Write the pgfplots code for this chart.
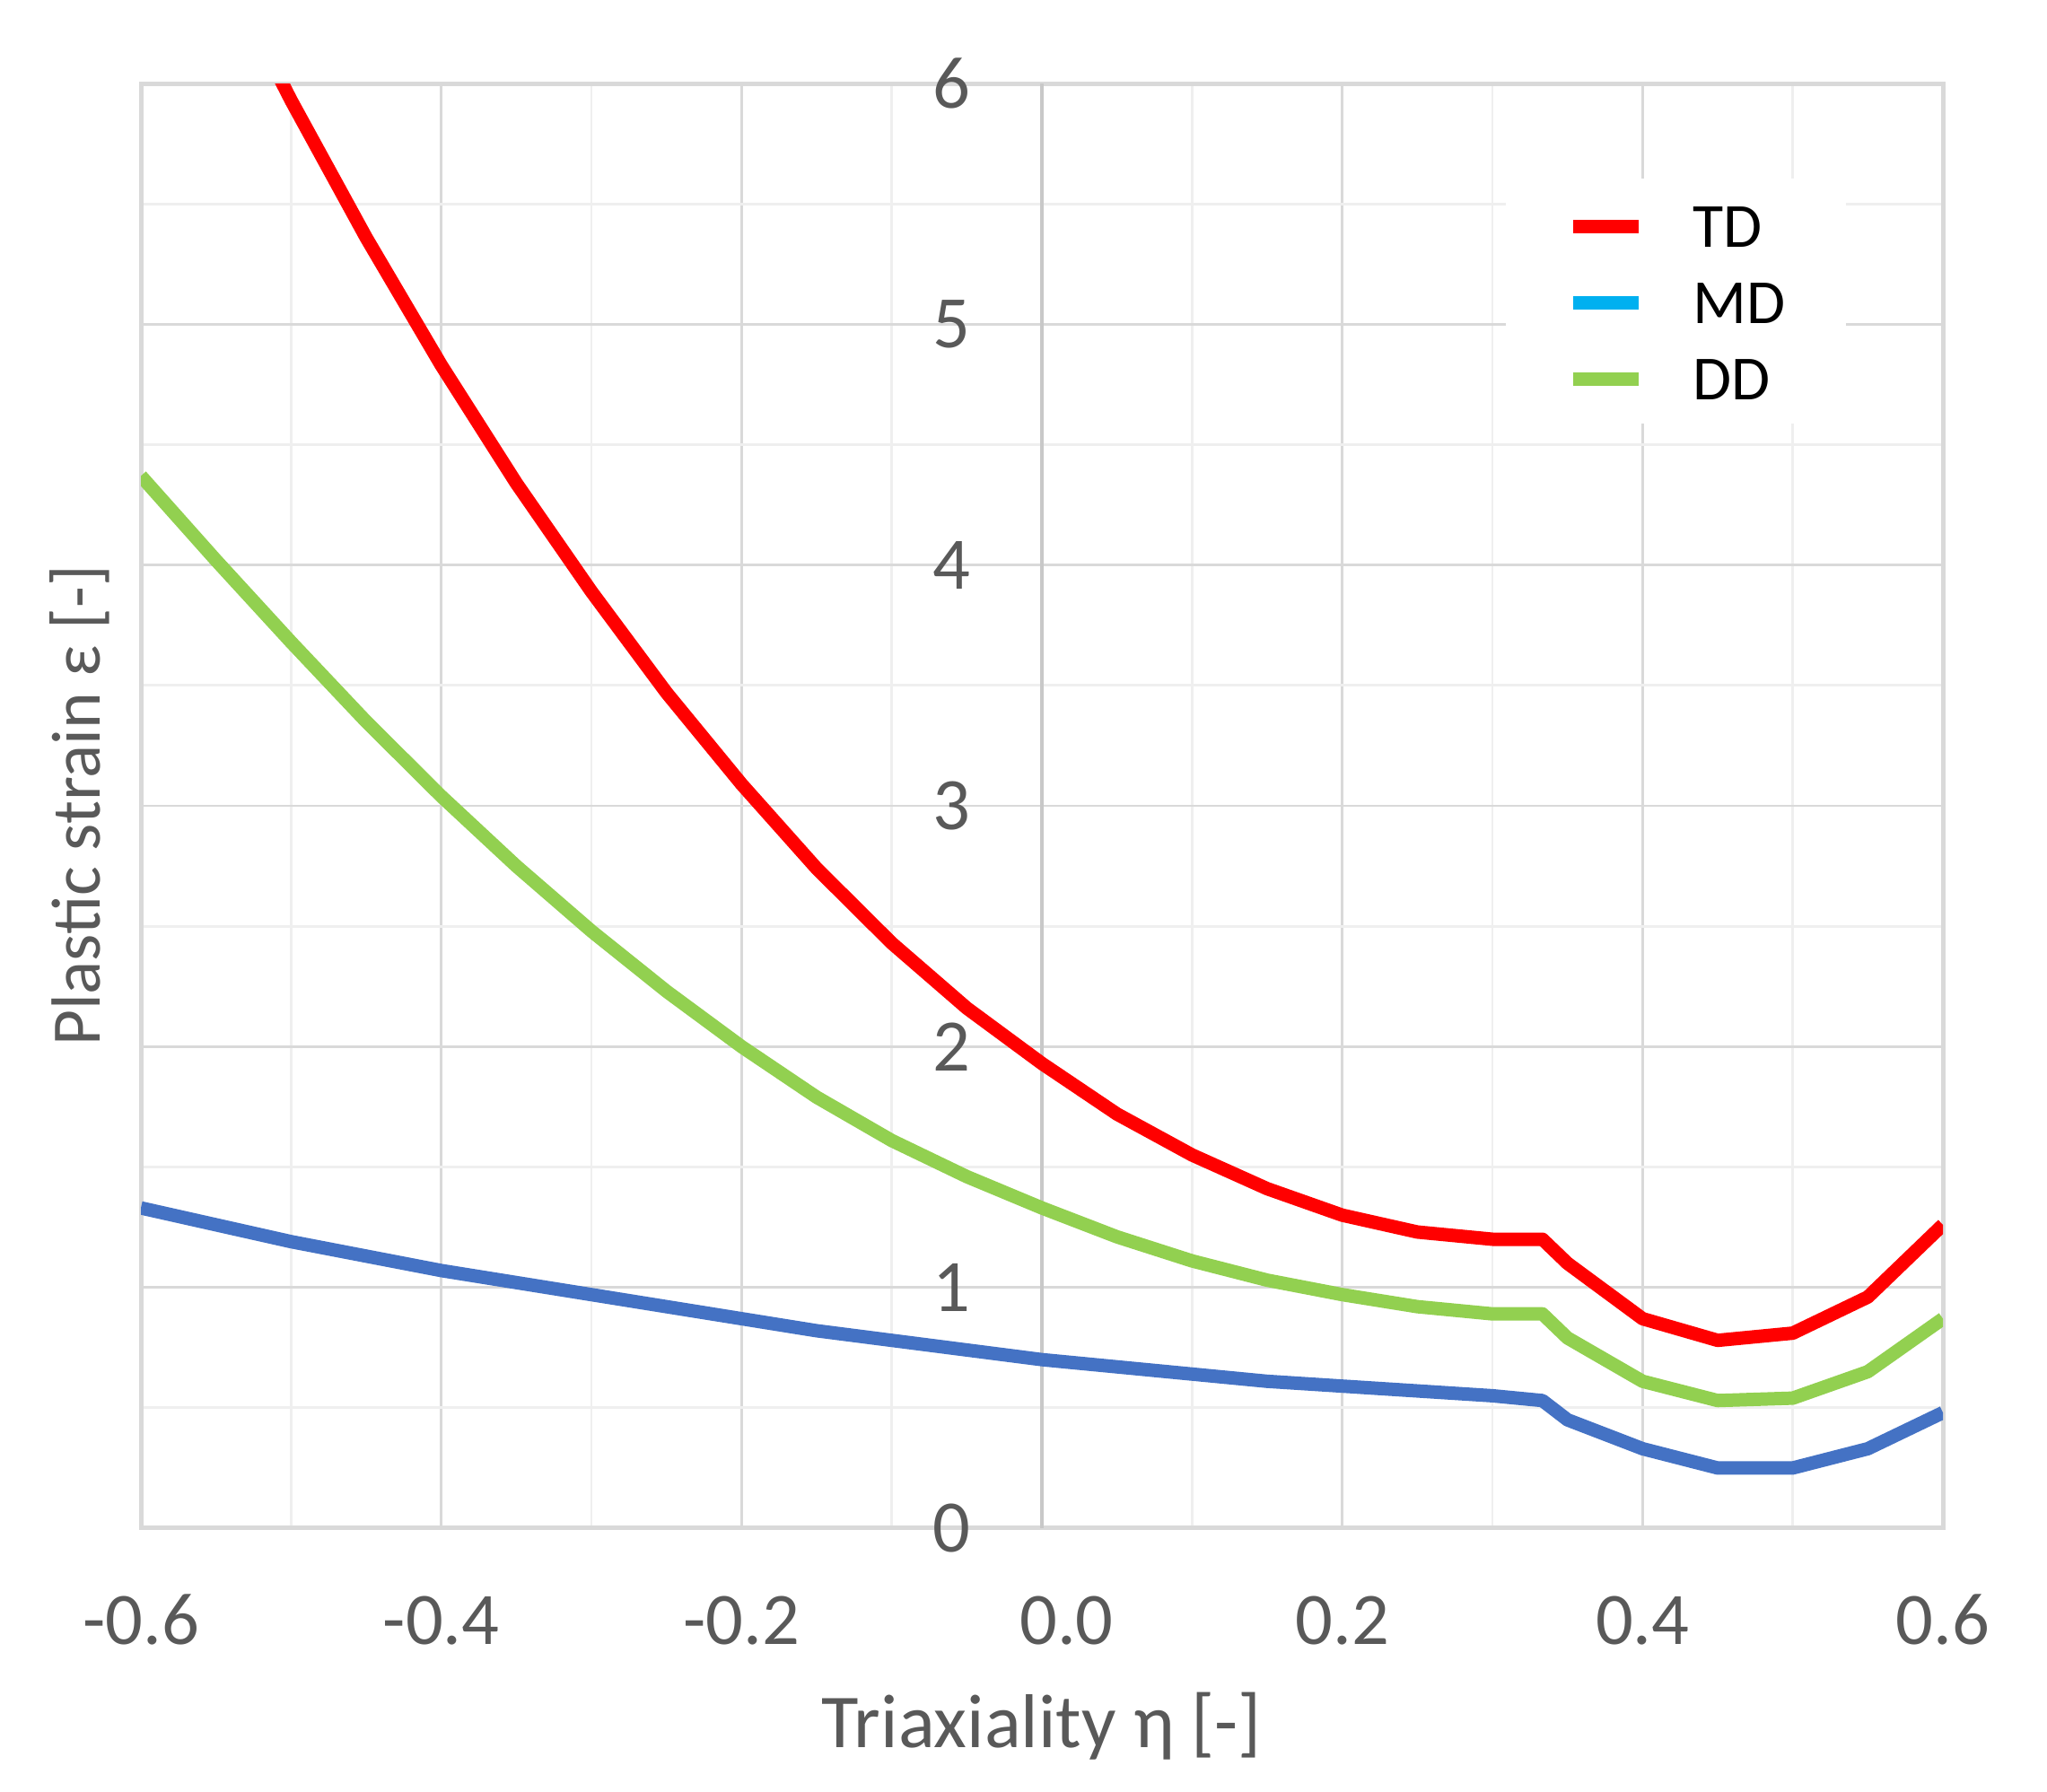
\documentclass[border=0pt]{standalone}
\usepackage{pgfplots}
\pgfplotsset{compat=1.18}
\usepackage{fontspec}
\setmainfont{Carlito}
\definecolor{tdred}{HTML}{FF0000}
\definecolor{mdblue}{HTML}{4472C4}
\definecolor{mdlegend}{HTML}{00B0F0}
\definecolor{ddgreen}{HTML}{92D050}
\definecolor{txtgray}{HTML}{595959}
\definecolor{majgrid}{HTML}{D9D9D9}
\definecolor{mingrid}{HTML}{EFEFEF}
\definecolor{axisgray}{HTML}{C8C8C8}

\pgfplotstableread{
x y
-0.6 7.19
-0.55 6.54
-0.5 5.93
-0.45 5.36
-0.4 4.83
-0.35 4.34
-0.3 3.89
-0.25 3.47
-0.2 3.09
-0.15 2.74
-0.1 2.43
-0.05 2.16
0 1.93
0.05 1.72
0.1 1.55
0.15 1.41
0.2 1.30
0.25 1.23
0.3 1.20
0.3333 1.20
0.35 1.10
0.4 0.87
0.45 0.78
0.5 0.81
0.55 0.96
0.6 1.26
}\tdtable

\pgfplotstableread{
x y
-0.6 1.33
-0.55 1.26
-0.5 1.19
-0.45 1.13
-0.4 1.07
-0.35 1.02
-0.3 0.97
-0.25 0.92
-0.2 0.87
-0.15 0.82
-0.1 0.78
-0.05 0.74
0 0.70
0.05 0.67
0.1 0.64
0.15 0.61
0.2 0.59
0.25 0.57
0.3 0.55
0.3333 0.53
0.35 0.45
0.4 0.33
0.45 0.25
0.5 0.25
0.55 0.33
0.6 0.48
}\mdtable

\pgfplotstableread{
x y
-0.6 4.37
-0.55 4.02
-0.5 3.68
-0.45 3.35
-0.4 3.04
-0.35 2.75
-0.3 2.48
-0.25 2.23
-0.2 2.00
-0.15 1.79
-0.1 1.61
-0.05 1.46
0 1.33
0.05 1.21
0.1 1.11
0.15 1.03
0.2 0.97
0.25 0.92
0.3 0.89
0.3333 0.89
0.35 0.79
0.4 0.61
0.45 0.53
0.5 0.54
0.55 0.65
0.6 0.87
}\ddtable

\begin{document}
\begin{tikzpicture}
\useasboundingbox (-31.4pt,-58.8pt) rectangle (424.8pt,340.6pt);
\begin{axis}[
  scale only axis,
  width=401.6pt, height=322pt,
  at={(0,0)}, anchor=south west,
  xmin=-0.6, xmax=0.6, ymin=0, ymax=6,
  xtick={-0.6,-0.4,-0.2,0,0.2,0.4,0.6},
  xticklabels={-0.6,-0.4,-0.2,\hspace*{11pt}0.0,0.2,0.4,0.6},
  ytick={0,1,2,3,4,5,6},
  yticklabels={0,1,2,3,4,5,6},
  minor xtick={-0.5,-0.3,-0.1,0.1,0.3,0.5},
  minor ytick={0.5,1.5,2.5,3.5,4.5,5.5},
  major tick length=0pt, minor tick length=0pt,
  grid=both,
  major grid style={draw=majgrid, line width=0.55pt},
  minor grid style={draw=mingrid, line width=0.55pt},
  axis line style={draw=majgrid, line width=1pt},
  extra x ticks={0}, extra x tick labels={},
  extra tick style={grid=major, major grid style={draw=axisgray, line width=0.8pt}},
  tick label style={font=\fontsize{16.5}{19}\selectfont, text=txtgray},
  xticklabel style={anchor=base, yshift=-26pt, inner sep=0pt},
  yticklabel style={anchor=east, inner xsep=0pt, xshift=185.1pt},
  xlabel={Triaxiality η [-]},
  ylabel={Plastic strain ε [-]},
  xlabel style={font=\fontsize{17}{20}\selectfont, text=txtgray,
    at={(axis description cs:0.5,0)}, anchor=center, yshift=-44.2pt},
  ylabel style={font=\fontsize{15.5}{18}\selectfont, text=txtgray,
    at={(axis description cs:0,0.5)}, anchor=center, yshift=13.7pt},
  legend style={at={(axis description cs:0.757,0.935)}, anchor=north west,
    draw=none, fill=white, font=\fontsize{14}{16}\selectfont, text=black,
    inner xsep=13.5pt, inner ysep=5.3pt, row sep=7pt,
    nodes={inner sep=0pt, text height=10pt, text depth=0pt},
    /tikz/every odd column/.append style={column sep=10.7pt}},
  legend cell align=left,
  legend image code/.code={\draw[#1] (0pt,-0.5pt) -- (14.5pt,-0.5pt);},
  every axis plot/.append style={line width=3pt, line join=round},
]
\addlegendimage{tdred, line width=3pt}
\addlegendentry{TD}
\addlegendimage{mdlegend, line width=3pt}
\addlegendentry{MD}
\addlegendimage{ddgreen, line width=3pt}
\addlegendentry{DD}
\addplot[mdblue, forget plot] table[x=x,y=y] {\mdtable};
\addplot[ddgreen, forget plot] table[x=x,y=y] {\ddtable};
\addplot[tdred, forget plot] table[x=x,y=y] {\tdtable};
\end{axis}
\end{tikzpicture}
\end{document}
